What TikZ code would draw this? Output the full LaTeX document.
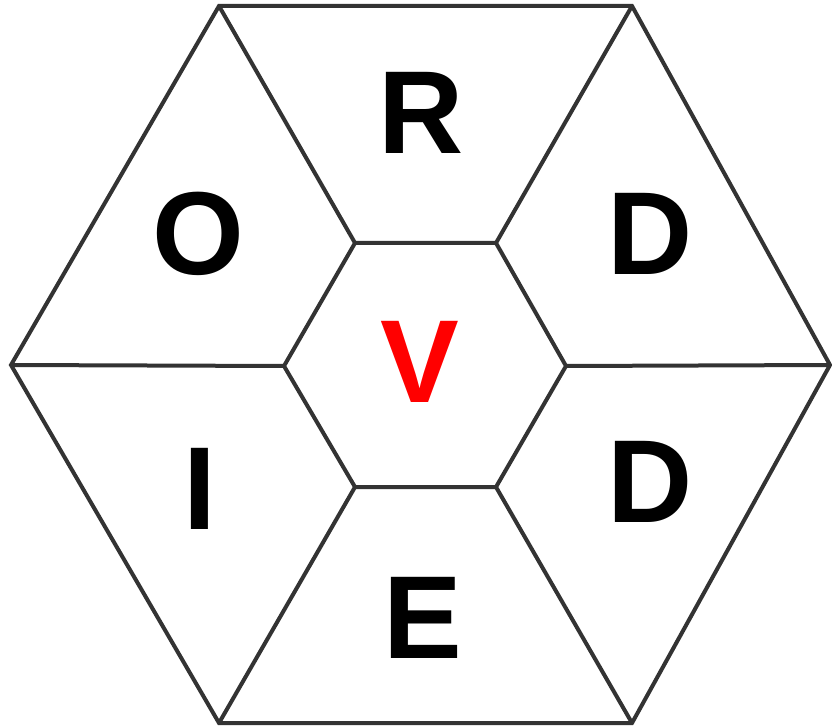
\documentclass[tikz,border=0pt]{standalone}
\usepackage{fontspec}
\setmainfont{Liberation Sans}
\definecolor{edge}{HTML}{333333}
\definecolor{vred}{HTML}{FF0000}
\tikzset{
  cell/.style={draw=edge, line width=4pt, line join=miter},
  letter/.style={inner sep=0pt, anchor=center, font=\fontsize{118}{118}\selectfont\bfseries, text=black},
}
\begin{document}
\begin{tikzpicture}[x=1pt,y=-1pt]
\useasboundingbox (0,0) rectangle (832,727);
% outer hexagon
\coordinate (o1) at (219,6);
\coordinate (o2) at (632,6);
\coordinate (o3) at (830,365);
\coordinate (o4) at (632,723);
\coordinate (o5) at (219,723);
\coordinate (o6) at (11,365);
% inner hexagon
\coordinate (i1) at (355,243);
\coordinate (i2) at (496,243);
\coordinate (i3) at (566,366);
\coordinate (i4) at (496,487);
\coordinate (i5) at (355,487);
\coordinate (i6) at (284,366);
\draw[cell] (o1) -- (o2) -- (o3) -- (o4) -- (o5) -- (o6) -- cycle;
\draw[cell] (i1) -- (i2) -- (i3) -- (i4) -- (i5) -- (i6) -- cycle;
\draw[cell] (o1) -- (i1);
\draw[cell] (o2) -- (i2);
\draw[cell] (o3) -- (i3);
\draw[cell] (o4) -- (i4);
\draw[cell] (o5) -- (i5);
\draw[cell] (o6) -- (i6);
% letters
\node[letter] (r) at (421,113) {R};
\node[letter] (o) at (198,234) {O};
\node[letter] (d1) at (650,234) {D};
\node[letter, text=vred] (v) at (420,362) {V};
\node[letter] (i) at (200,489) {I};
\node[letter] (d2) at (650,482) {D};
\node[letter] (e) at (423,618) {E};
\end{tikzpicture}
\end{document}
